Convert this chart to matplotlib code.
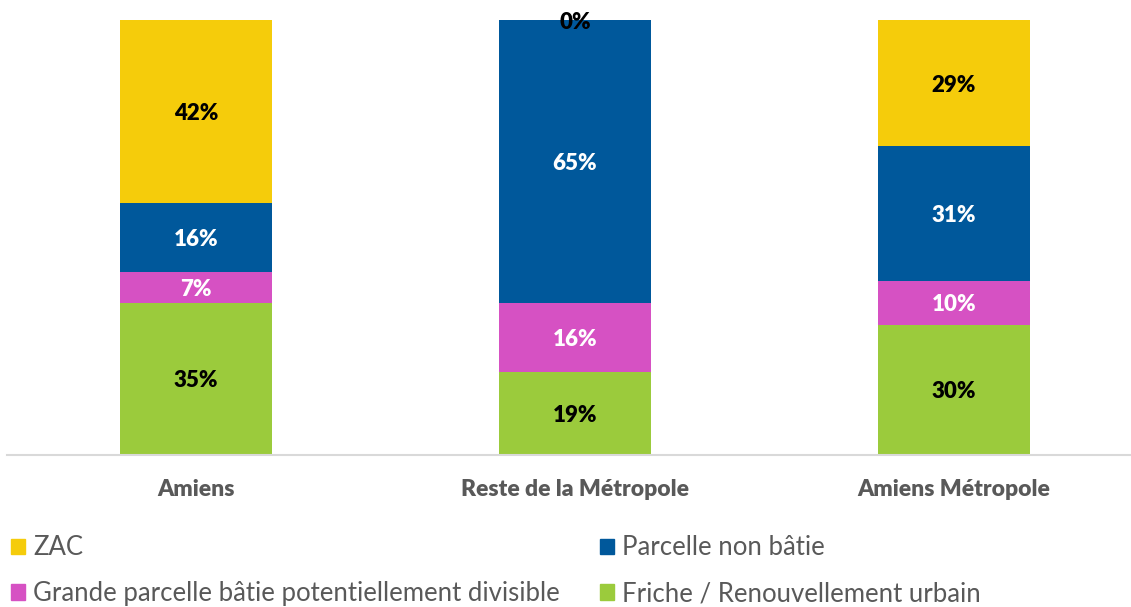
import matplotlib
matplotlib.use("Agg")
from matplotlib import pyplot as plt
from matplotlib.patches import Patch

categories = ["Amiens", "Reste de la Métropole", "Amiens Métropole"]
series_names = ["Friche / Renouvellement urbain",
                "Grande parcelle bâtie potentiellement divisible",
                "Parcelle non bâtie",
                "ZAC"]
friche = [35, 19, 30]
grande = [7, 16, 10]
non_batie = [16, 65, 31]
zac = [42, 0, 29]

colors = ["#9BCB3C", "#D651C3", "#00589B", "#F5CC0B"]
label_colors = ["black", "white", "white", "black"]

plt.rcParams["font.family"] = ["Lato", "DejaVu Sans"]

fig = plt.figure(figsize=(11.31, 6.07), dpi=100)
ax = fig.add_axes([6.5 / 1131, 152 / 607, (1131 - 6.5) / 1131, 435 / 607])

x = list(range(len(categories)))
bottom = [0, 0, 0]
for values, col, lc in zip([friche, grande, non_batie, zac], colors, label_colors):
    ax.bar(x, values, width=0.40, bottom=bottom, color=col)
    for i, v in enumerate(values):
        ax.text(i, bottom[i] + v / 2, "%d%%" % v, ha="center", va="center_baseline",
                fontsize=16, fontweight="heavy", color=lc)
    bottom = [b + v for b, v in zip(bottom, values)]

ax.set_xlim(-0.5, (1131 - 196) / 379)
ax.set_ylim(0, 100)
ax.set_yticks([])
ax.set_xticks(x)
ax.set_xticklabels(categories, fontsize=16.5, fontweight="heavy", color="#595959")
ax.tick_params(axis="x", length=0, pad=17)
for s in ["top", "right", "left"]:
    ax.spines[s].set_visible(False)
ax.spines["bottom"].set_color("#D9D9D9")
ax.spines["bottom"].set_linewidth(1.5)

handles = [Patch(color=colors[3]), Patch(color=colors[1]),
           Patch(color=colors[2]), Patch(color=colors[0])]
labels = [series_names[3], series_names[1], series_names[2], series_names[0]]
fig.legend(handles, labels, loc="upper left", bbox_to_anchor=(-0.006, 0.1475),
           ncol=2, frameon=False, fontsize=18.5, labelcolor="#595959",
           handlelength=0.545, handleheight=0.545, handletextpad=0.31,
           columnspacing=1.56, labelspacing=0.8, borderaxespad=0.3)

fig.savefig("out.png", dpi=100)
